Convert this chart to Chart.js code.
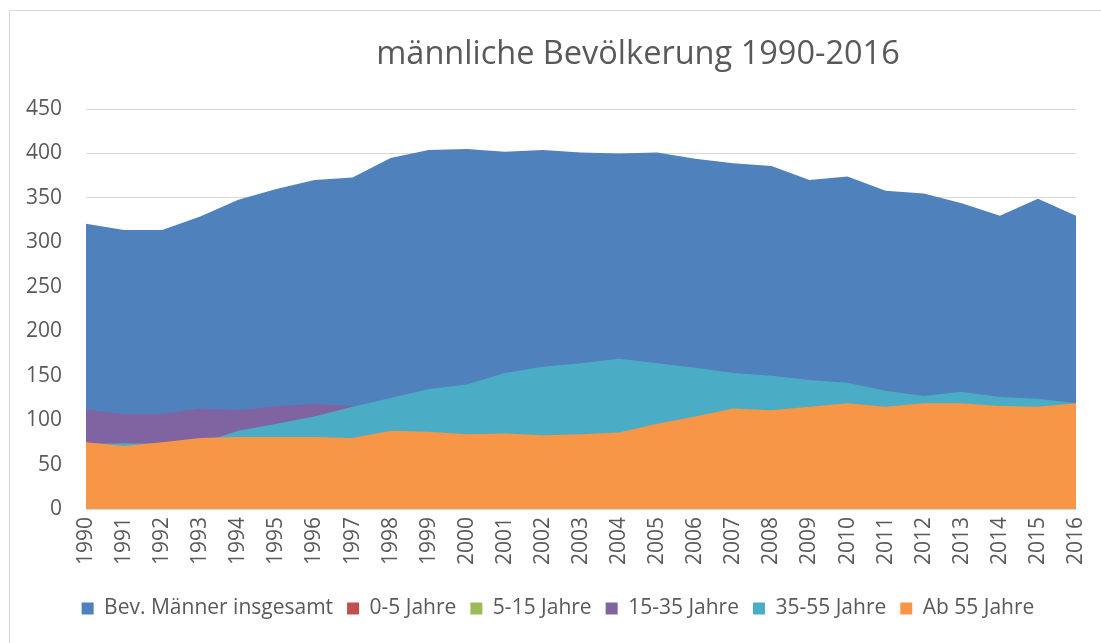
<!DOCTYPE html>
<html>
<head>
<meta charset="utf-8">
<script src="https://cdn.jsdelivr.net/npm/chart.js@4/dist/chart.umd.min.js"></script>
<style>
  body { margin: 0; background: #fff; }
  #wrap { position: relative; width: 1101px; height: 643px; overflow: hidden; }
  #frame { position: absolute; left: 9px; top: 10px; width: 1200px; height: 800px;
           border-left: 1px solid #d9d9d9; border-top: 1px solid #d9d9d9; }
  #title { position: absolute; left: 0; width: 1276px; top: 29px; text-align: center;
           font-family: "Open Sans", sans-serif; font-size: 32.5px; color: #595959; }
  canvas { position: absolute; left: 0; top: 0; }
</style>
</head>
<body>
<div id="wrap">
  <div id="frame"></div>
  <canvas id="bev-chart" width="1101" height="643"></canvas>
  <div id="title">männliche Bevölkerung 1990-2016</div>
</div>
<script>
// Jahre (x-Achse)
const years = ["1990", "1991", "1992", "1993", "1994", "1995", "1996", "1997", "1998", "1999",
  "2000", "2001", "2002", "2003", "2004", "2005", "2006", "2007", "2008", "2009",
  "2010", "2011", "2012", "2013", "2014", "2015", "2016"];

// Werte in Tausend
const maennerGesamt = [321, 314, 314, 329, 348, 360, 370, 373, 395, 404,
  405, 402, 404, 401, 400, 401, 394, 389, 386, 370,
  374, 358, 355, 344, 330, 349, 330];
const jahre0bis5 = [20, 20, 19, 19, 18, 18, 18, 18, 18, 18,
  18, 17, 17, 17, 17, 17, 16, 16, 16, 16,
  16, 16, 16, 16, 16, 17, 17];
const jahre5bis15 = [40, 41, 40, 38, 38, 38, 38, 39, 40, 40,
  40, 40, 39, 38, 37, 36, 35, 34, 34, 33,
  33, 32, 32, 31, 31, 31, 31];
const jahre15bis35 = [112, 107, 107, 113, 111, 116, 118, 116, 113, 110,
  107, 104, 101, 97, 92, 87, 80, 74, 72, 64,
  62, 60, 59, 50, 46, 55, 48];
const jahre35bis55 = [73, 74, 73, 74, 88, 96, 104, 115, 125, 135,
  140, 153, 160, 164, 169, 164, 159, 153, 150, 145,
  142, 133, 127, 132, 126, 124, 119];
const ab55 = [75, 71, 75, 80, 81, 81, 81, 80, 88, 87,
  84, 85, 83, 84, 86, 96, 104, 113, 111, 115,
  119, 115, 119, 119, 116, 115, 119];

const textColor = "#595959";
const gridColor = "#d9d9d9";

// one area per series, all filled down to zero (not stacked)
function area(label, data, color, order)
{
  return {
    label: label,
    data: data,
    backgroundColor: color,
    borderColor: color,
    borderWidth: 0,
    pointRadius: 0,
    fill: "origin",
    order: order
  };
}

// nudge the legend a little to the right, like in the original
const legendShift = {
  id: "legendShift",
  afterLayout(chart) {
    if (chart.legend)
      chart.legend.left += 30;
  }
};

const ctx = document.getElementById("bev-chart");

new Chart(ctx, {
  type: "line",
  data: {
    labels: years,
    datasets: [
      area("Bev. Männer insgesamt", maennerGesamt, "#4f81bd", 6),
      area("0-5 Jahre", jahre0bis5, "#c0504d", 5),
      area("5-15 Jahre", jahre5bis15, "#9bbb59", 4),
      area("15-35 Jahre", jahre15bis35, "#8064a2", 3),
      area("35-55 Jahre", jahre35bis55, "#4bacc6", 2),
      area("Ab 55 Jahre", ab55, "#f79646", 1)
    ]
  },
  plugins: [legendShift],
  options: {
    responsive: false,
    animation: false,
    layout: { padding: { left: 10, right: 25, top: 109, bottom: 14 } },
    plugins: {
      tooltip: { enabled: false },
      legend: {
        position: "bottom",
        labels: {
          boxWidth: 12,
          boxHeight: 12,
          padding: 14,
          color: textColor,
          font: { family: "Open Sans", size: 21 },
          sort: (a, b) => a.datasetIndex - b.datasetIndex
        }
      }
    },
    scales: {
      x: {
        offset: false,
        grid: { display: false, drawTicks: false },
        border: { display: true, color: gridColor },
        ticks: {
          color: textColor,
          font: { family: "Open Sans", size: 21 },
          minRotation: 90,
          maxRotation: 90,
          autoSkip: false,
          padding: 8
        },
        afterFit: (scale) => {
          scale.height = 75;
          scale.paddingLeft = 0;
          scale.paddingRight = 0;
        }
      },
      y: {
        min: 0,
        max: 450,
        ticks: {
          stepSize: 50,
          color: textColor,
          font: { family: "Open Sans", size: 21 },
          padding: 24
        },
        grid: { color: gridColor, drawTicks: false },
        border: { display: false },
        afterFit: (scale) => { scale.width = 76; }
      }
    }
  }
});
</script>
</body>
</html>
